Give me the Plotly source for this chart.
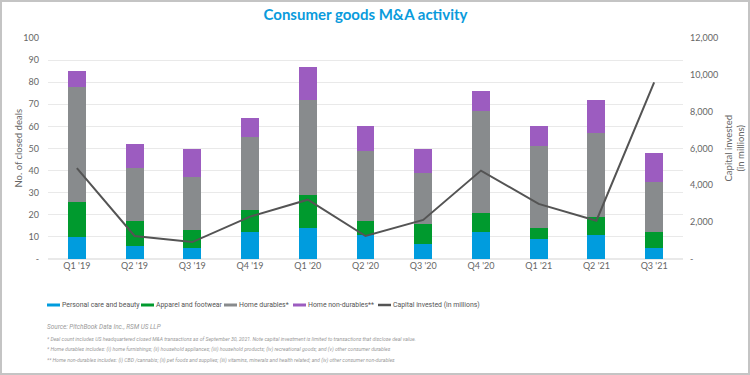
import plotly.graph_objects as go

quarters = ["Q1 '19", "Q2 '19", "Q3 '19", "Q4 '19", "Q1 '20", "Q2 '20",
            "Q3 '20", "Q4 '20", "Q1 '21", "Q2 '21", "Q3 '21"]
personal_care = [10, 6, 5, 12, 14, 11, 7, 12, 9, 11, 5]
apparel = [16, 11, 8, 10, 15, 6, 9, 9, 5, 8, 7]
home_durables = [52, 24, 24, 33, 43, 32, 23, 46, 37, 38, 23]
home_non_durables = [7, 11, 13, 9, 15, 11, 11, 9, 9, 15, 13]
capital_invested = [4930, 1250, 920, 2300, 3220, 1250, 2120, 4800, 2990, 2080, 9590]

left_ticks = list(range(0, 101, 10))
left_text = ["-"] + [str(v) for v in left_ticks[1:]]
right_ticks = list(range(0, 12001, 2000))
right_text = ["-"] + [f"{v:,}" for v in right_ticks[1:]]

FONT = "Lato"
SMALL = "Roboto"
C_BLUE = "#009CDE"
C_GREEN = "#009A2E"
C_GRAY = "#888B8D"
C_PURPLE = "#9C5CC0"
C_LINE = "#545454"

series = [("Personal care and beauty", personal_care, C_BLUE),
          ("Apparel and footwear", apparel, C_GREEN),
          ("Home durables*", home_durables, C_GRAY),
          ("Home non-durables**", home_non_durables, C_PURPLE)]

fig = go.Figure()
for name, vals, col in series:
    fig.add_trace(go.Bar(x=quarters, y=vals, name=name, marker_color=col,
                         marker_line_width=0, showlegend=False))
fig.add_trace(go.Scatter(x=quarters, y=capital_invested, name="Capital invested (in millions)",
                         mode="lines", line=dict(color=C_LINE, width=2), yaxis="y2",
                         showlegend=False))

L, R, T, B = 48, 67, 38, 116
W, H = 750, 375
pw, ph = W - L - R, H - T - B
def px(x): return (x - L) / pw
def py(y): return (H - B - y) / ph

fig.update_layout(
    width=W, height=H,
    margin=dict(l=L, r=R, t=T, b=B, autoexpand=False),
    paper_bgcolor="white", plot_bgcolor="white",
    barmode="stack", bargap=0.69,
    font=dict(family=FONT, color="#666666", size=9),
    title=dict(text="<b>Consumer goods M&A activity</b>", x=0.5, xref="paper",
               xanchor="center", y=1 - 15 / H, yanchor="middle",
               font=dict(family=FONT, size=15, color="#0A9BDC")),
    xaxis=dict(showgrid=False, ticks="", tickfont=dict(size=9, color="#666666"),
               showline=False, automargin=False),
    yaxis=dict(range=[0, 100], tickvals=left_ticks, ticktext=left_text,
               gridcolor="#E9E9E9", gridwidth=1, zeroline=True, zerolinecolor="#E9E9E9",
               ticks="", ticklabelstandoff=8, automargin=False),
    yaxis2=dict(range=[0, 12000], tickvals=right_ticks, ticktext=right_text,
                overlaying="y", side="right", showgrid=False, zeroline=False,
                ticks="", ticklabelstandoff=6, automargin=False),
    showlegend=False,
)

# axis titles
fig.add_annotation(x=px(10), y=py(148), xref="paper", yref="paper",
                   text="No. of closed deals", textangle=-90, showarrow=False,
                   font=dict(size=9.5, color="#666666"))
fig.add_annotation(x=px(747), y=py(148), xref="paper", yref="paper",
                   text="Capital invested<br>(in millions)", textangle=-90, showarrow=False,
                   font=dict(size=9.5, color="#666666"))

# legend (drawn)
legend_items = [(name, col, "bar") for name, _, col in series] + \
               [("Capital invested (in millions)", C_LINE, "line")]
legend_x = [47, 141, 224, 293, 378]
for (name, col, kind), lx in zip(legend_items, legend_x):
    if kind == "bar":
        fig.add_shape(type="rect", xref="paper", yref="paper",
                      x0=px(lx), x1=px(lx + 13), y0=py(306.5), y1=py(303.5),
                      fillcolor=col, line_width=0)
    else:
        fig.add_shape(type="line", xref="paper", yref="paper",
                      x0=px(lx), x1=px(lx + 13), y0=py(305), y1=py(305),
                      line=dict(color=col, width=2.5))
    fig.add_annotation(x=px(lx + 13), y=py(305), xref="paper", yref="paper",
                       text=name, showarrow=False, xanchor="left", yanchor="middle",
                       font=dict(family=SMALL, size=6.9, color="#555555"))

notes = [
    (327, "Source: PitchBook Data Inc., RSM US LLP"),
    (339, "* Deal count includes US headquartered closed M&A transactions as of September 30, 2021. Note capital investment is limited to transactions that disclose deal value."),
    (349.5, "* Home durables includes: (i) home furnishings; (ii) household appliances; (iii) household products; (iv) recreational goods; and (v) other consumer durables"),
    (360, "** Home non-durables includes: (i) CBD /cannabis; (ii) pet foods and supplies; (iii) vitamins, minerals and health related; and (iv) other consumer non-durables"),
]
for i, (yy, t) in enumerate(notes):
    fig.add_annotation(x=px(45), y=py(yy), xref="paper", yref="paper", text=f"<i>{t}</i>",
                       showarrow=False, xanchor="left", yanchor="middle",
                       font=dict(family=SMALL, size=6.4 if i == 0 else 5.15, color="#9A9A9A"))

fig.add_shape(type="rect", xref="paper", yref="paper",
              x0=px(1), x1=px(749), y0=py(374), y1=py(1),
              line=dict(color="#C4C4C4", width=2), fillcolor="rgba(0,0,0,0)", layer="below")

fig.write_html("out.html", config={"displayModeBar": False},
               post_script="document.body.style.margin='0';")
